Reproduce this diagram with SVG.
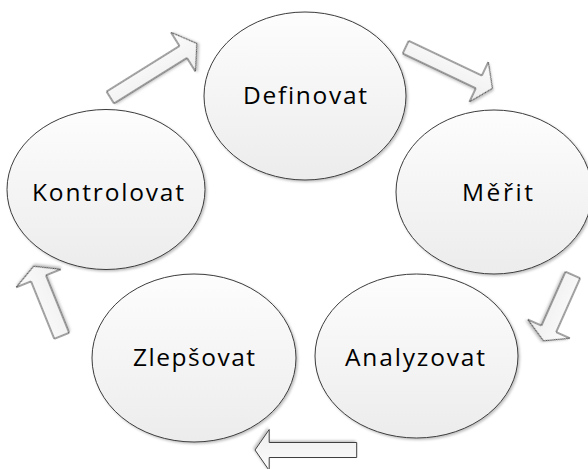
<svg xmlns="http://www.w3.org/2000/svg" width="588" height="469" viewBox="0 0 588 469">
  <defs>
    <linearGradient id="nodeFill" x1="0" y1="0" x2="0" y2="1">
      <stop offset="0" stop-color="#fdfdfd"/>
      <stop offset="1" stop-color="#ececec"/>
    </linearGradient>
    <linearGradient id="arrowFill" x1="0" y1="0" x2="0" y2="1">
      <stop offset="0" stop-color="#fcfcfc"/>
      <stop offset="1" stop-color="#eeeeee"/>
    </linearGradient>
    <filter id="shadow" x="-10%" y="-10%" width="130%" height="130%">
      <feDropShadow dx="1.5" dy="1.5" stdDeviation="1.2" flood-color="#000" flood-opacity="0.25"/>
    </filter>
  </defs>
  <style>
    .node ellipse { fill: url(#nodeFill); stroke: #3c3c3c; stroke-width: 1; filter: url(#shadow); }
    .node text { font-family: "Open Sans", "Noto Sans", sans-serif; font-size: 24.5px; fill: #000; text-anchor: middle; font-variant-ligatures: none; }
    .arrow { fill: url(#arrowFill); stroke: #404040; stroke-width: 1; stroke-linejoin: miter; filter: url(#shadow); }
  </style>

  <rect width="588" height="469" fill="#ffffff"/>

  <!-- block arrows between the steps of the cycle -->
  <g id="connectors">
    <polygon class="arrow" transform="translate(110.3,97.5) rotate(-32)"
             points="0,-7 86,-7 86,-23 102,0 86,23 86,7 0,7"/>
    <polygon class="arrow" transform="translate(405.7,47.2) rotate(25.4)"
             points="0,-7 81,-7 81,-22 96,0 81,22 81,7 0,7"/>
    <polygon class="arrow" transform="translate(572.8,275) rotate(114)"
             points="0,-8 59,-8 59,-23 72,0 59,23 59,8 0,8"/>
    <polygon class="arrow" transform="translate(61.7,335.8) rotate(-112)"
             points="0,-8 62,-8 62,-24 75,0 62,24 62,8 0,8"/>
    <polygon class="arrow" transform="translate(356.7,450) rotate(180)"
             points="0,-7.5 87.5,-7.5 87.5,-20.5 101.7,0 87.5,20.5 87.5,7.5 0,7.5"/>
  </g>

  <g id="definovat" class="node">
    <ellipse cx="305" cy="96" rx="101" ry="84"/>
    <text x="305" y="104" textLength="124" lengthAdjust="spacing">Definovat</text>
  </g>

  <g id="merit" class="node">
    <ellipse cx="494" cy="192" rx="98" ry="82"/>
    <text x="497.5" y="201" textLength="71" lengthAdjust="spacing">Měřit</text>
  </g>

  <g id="analyzovat" class="node">
    <ellipse cx="416.5" cy="356" rx="101.5" ry="82"/>
    <text x="415" y="366" textLength="140" lengthAdjust="spacing">Analyzovat</text>
  </g>

  <g id="zlepsovat" class="node">
    <ellipse cx="194" cy="358" rx="102" ry="84"/>
    <text x="194" y="366" textLength="122" lengthAdjust="spacing">Zlepšovat</text>
  </g>

  <g id="kontrolovat" class="node">
    <ellipse cx="106" cy="189.5" rx="99" ry="80"/>
    <text x="108" y="201" textLength="152" lengthAdjust="spacing">Kontrolovat</text>
  </g>
</svg>
